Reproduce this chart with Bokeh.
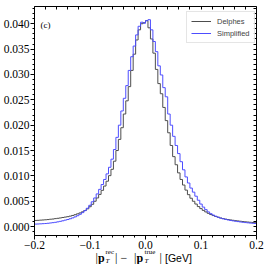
import numpy as np
from bokeh.plotting import figure
from bokeh.models import (ColumnDataSource, FixedTicker, LinearAxis, Label,
                          Legend, LegendItem, Range1d)
from bokeh.embed import file_html
from bokeh.resources import INLINE

# ---------------- data ----------------
BIN_LO, BIN_HI, N_BINS = -0.2, 0.2, 90

delphes = [
    0.00122, 0.00124, 0.00128, 0.00131, 0.00135, 0.00139, 0.00146, 0.00150, 0.00158, 0.00164,
    0.00171, 0.00180, 0.00188, 0.00196, 0.00207, 0.00220, 0.00235, 0.00252, 0.00270, 0.00292,
    0.00318, 0.00350, 0.00392, 0.00440, 0.00500, 0.00565, 0.00635, 0.00715, 0.00800, 0.00895,
    0.01005, 0.01130, 0.01290, 0.01500, 0.01720, 0.01950, 0.02220, 0.02480, 0.02760, 0.03080,
    0.03400, 0.03680, 0.03880, 0.04000, 0.04020, 0.04060, 0.03920, 0.03700, 0.03420, 0.03100,
    0.02820, 0.02620, 0.02350, 0.02090, 0.01850, 0.01600, 0.01380, 0.01220, 0.01060, 0.00930,
    0.00820, 0.00720, 0.00630, 0.00560, 0.00500, 0.00445, 0.00395, 0.00355, 0.00320, 0.00290,
    0.00262, 0.00238, 0.00218, 0.00200, 0.00185, 0.00170, 0.00158, 0.00148, 0.00140, 0.00132,
    0.00125, 0.00118, 0.00112, 0.00106, 0.00100, 0.00095, 0.00090, 0.00086, 0.00082, 0.00078,
]
simplified = [
    0.00050, 0.00052, 0.00055, 0.00058, 0.00061, 0.00066, 0.00072, 0.00078, 0.00085, 0.00094,
    0.00104, 0.00115, 0.00128, 0.00140, 0.00155, 0.00172, 0.00192, 0.00215, 0.00243, 0.00276,
    0.00315, 0.00362, 0.00420, 0.00490, 0.00565, 0.00645, 0.00735, 0.00830, 0.00930, 0.01040,
    0.01170, 0.01330, 0.01520, 0.01760, 0.02000, 0.02280, 0.02530, 0.02780, 0.03080, 0.03350,
    0.03560, 0.03780, 0.03950, 0.04030, 0.04010, 0.04060, 0.04080, 0.03880, 0.03650, 0.03450,
    0.03170, 0.02990, 0.02740, 0.02560, 0.02220, 0.02000, 0.01780, 0.01600, 0.01440, 0.01280,
    0.01120, 0.00980, 0.00860, 0.00760, 0.00680, 0.00600, 0.00520, 0.00445, 0.00385, 0.00335,
    0.00290, 0.00255, 0.00228, 0.00205, 0.00185, 0.00168, 0.00155, 0.00142, 0.00132, 0.00122,
    0.00114, 0.00106, 0.00099, 0.00092, 0.00086, 0.00080, 0.00075, 0.00070, 0.00066, 0.00062,
]
series_names = ["Delphes", "Simplified"]
series_colors = ["#4d4d4d", "#4d4dff"]

x_major = [-0.2, -0.1, 0.0, 0.1, 0.2]
x_major_labels = ["\u22120.2", "\u22120.1", "0.0", "0.1", "0.2"]
x_minor = [round(-0.2 + 0.02 * i, 3) for i in range(21)]
y_major = [0.000, 0.005, 0.010, 0.015, 0.020, 0.025, 0.030, 0.035, 0.040]
y_major_labels = ["0.000", "0.005", "0.010", "0.015", "0.020", "0.025", "0.030", "0.035", "0.040"]
y_minor = [round(0.001 * i, 3) for i in range(-1, 44)]

# ---------------- layout constants ----------------
W, H = 264, 264                 # canvas = plotting frame (all axes drawn at fixed locations)
BOX_L, BOX_R = 34, 256          # x (px) of the visible axes box edges inside the canvas
BOX_T, BOX_B = 6, 235           # y (px, from top) of the visible axes box edges
X_LO, X_HI = -0.2, 0.2
Y_LO, Y_HI = -0.00175, 0.0434
x_per_px = (X_HI - X_LO) / (BOX_R - BOX_L)
y_per_px = (Y_HI - Y_LO) / (BOX_B - BOX_T)
X_START, X_END = X_LO - BOX_L * x_per_px, X_HI + (W - BOX_R) * x_per_px
Y_START, Y_END = Y_LO - (H - BOX_B) * y_per_px, Y_HI + BOX_T * y_per_px

SERIF = "Liberation Serif"
SANS = "Liberation Sans"
TICK_FS = "11.5px"

p = figure(width=W, height=H, output_backend="svg", toolbar_location=None,
           x_range=Range1d(X_START, X_END), y_range=Range1d(Y_START, Y_END),
           min_border=0)
p.xgrid.visible = False
p.ygrid.visible = False
p.outline_line_color = None
p.background_fill_color = "white"
p.border_fill_color = "white"

edges = np.linspace(BIN_LO, BIN_HI, N_BINS + 1)
renderers = []
for vals, name, col in zip([delphes, simplified], series_names, series_colors):
    ys = list(vals) + [vals[-1]]
    src = ColumnDataSource(dict(x=edges, y=ys))
    r = p.step("x", "y", source=src, mode="after", line_color=col, line_width=1)
    renderers.append(r)

xt = FixedTicker(ticks=x_major, minor_ticks=x_minor)
yt = FixedTicker(ticks=y_major, minor_ticks=y_minor)

for ax, ticker, labels in [(p.xaxis[0], xt, x_major_labels), (p.yaxis[0], yt, y_major_labels)]:
    ax.ticker = ticker
    ax.axis_line_color = "black"
    ax.major_tick_line_color = "black"
    ax.minor_tick_line_color = "black"
    ax.major_tick_in, ax.major_tick_out = 0, 4
    ax.minor_tick_in, ax.minor_tick_out = 0, 2
    ax.major_label_overrides = dict(zip(ticker.ticks, labels))
    ax.major_label_text_font = SERIF
    ax.major_label_text_font_size = TICK_FS
    ax.major_label_text_color = "black"
    ax.major_label_standoff = 1
p.xaxis[0].fixed_location = Y_LO
p.xaxis[0].bounds = (X_LO, X_HI)
p.yaxis[0].fixed_location = X_LO
p.yaxis[0].bounds = (Y_LO, Y_HI)

# inward ticks on the top and right edges (tick-only axes, no labels)
top_ax = LinearAxis(ticker=FixedTicker(ticks=[], minor_ticks=x_minor),
                    fixed_location=Y_HI, bounds=(X_LO, X_HI))
right_ax = LinearAxis(ticker=FixedTicker(ticks=[], minor_ticks=y_minor),
                      fixed_location=X_HI, bounds=(Y_LO, Y_HI))
for ax, side in [(top_ax, "above"), (right_ax, "right")]:
    ax.axis_line_color = "black"
    ax.major_tick_in = ax.major_tick_out = 0
    ax.minor_tick_in, ax.minor_tick_out = 3, 0
    ax.minor_tick_line_color = "black"
    p.add_layout(ax, side)

# legend (placed by its lower-left corner, in px from the canvas bottom-left)
LEG_W, LEG_H = 68, 30
legend = Legend(items=[LegendItem(label=n, renderers=[r]) for n, r in zip(series_names, renderers)],
                location=(BOX_R - 2 - LEG_W, H - 13 - LEG_H), padding=4, spacing=2,
                glyph_width=20, glyph_height=10, label_height=10, label_standoff=6,
                label_text_font=SANS, label_text_font_size="7.5px",
                border_line_color="#cccccc", border_line_width=1,
                background_fill_color="white", background_fill_alpha=0.8)
p.add_layout(legend)

# panel tag
p.add_layout(Label(x=X_LO, y=H - 24, x_units="data", y_units="screen", x_offset=6,
                   text="(c)", text_font=SERIF, text_font_size="9px", text_color="black",
                   text_baseline="alphabetic"))

# x-axis label built from pieces (anchored at x = 0, offsets in px)
pieces = [
    ("|", -50, 7, SERIF, "12px", "normal"),
    ("p", -47.5, 7, SERIF, "12px", "bold"),
    ("rec", -40, 13, SERIF, "7px", "normal"),
    ("T", -40, 4, SERIF, "7px", "italic"),
    ("|", -30.5, 7, SERIF, "12px", "normal"),
    ("\u2212", -25, 7, SERIF, "12px", "normal"),
    ("|", -11.5, 7, SERIF, "12px", "normal"),
    ("p", -9, 7, SERIF, "12px", "bold"),
    ("true", -1, 13, SERIF, "7px", "normal"),
    ("T", -1, 4, SERIF, "7px", "italic"),
    ("|", 14, 7, SERIF, "12px", "normal"),
    ("[GeV]", 19.5, 7, SANS, "10.5px", "normal"),
]
for txt, dx, sy, fnt, fs, style in pieces:
    p.add_layout(Label(x=0.0, y=sy, x_units="data", y_units="screen", x_offset=dx,
                       text=txt, text_font=fnt, text_font_size=fs, text_font_style=style,
                       text_color="black", text_baseline="alphabetic", text_align="left"))

open("out.html", "w").write(file_html(p, INLINE))
